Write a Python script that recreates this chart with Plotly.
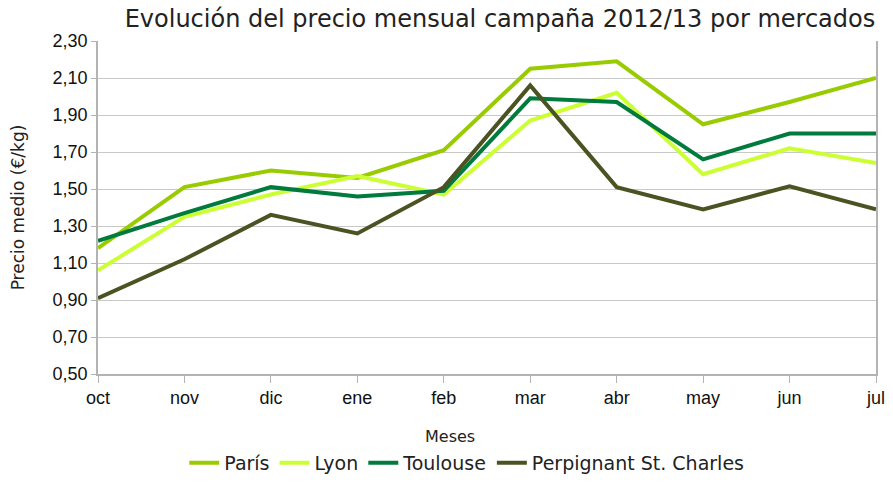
import plotly.graph_objects as go

meses = ["oct", "nov", "dic", "ene", "feb", "mar", "abr", "may", "jun", "jul"]
paris = [1.18, 1.51, 1.60, 1.56, 1.71, 2.15, 2.19, 1.85, 1.97, 2.10]
lyon = [1.06, 1.35, 1.47, 1.57, 1.47, 1.87, 2.02, 1.58, 1.72, 1.64]
toulouse = [1.22, 1.37, 1.51, 1.46, 1.49, 1.99, 1.97, 1.66, 1.80, 1.80]
perpignan = [0.91, 1.12, 1.36, 1.26, 1.51, 2.06, 1.51, 1.39, 1.515, 1.39]
y_ticks = [0.5, 0.7, 0.9, 1.1, 1.3, 1.5, 1.7, 1.9, 2.1, 2.3]

series = [
    ("París", paris, "#99CC00"),
    ("Lyon", lyon, "#CCFF33"),
    ("Toulouse", toulouse, "#007A3D"),
    ("Perpignant St. Charles", perpignan, "#4C5323"),
]

fig = go.Figure()
for name, vals, color in series:
    fig.add_trace(go.Scatter(x=meses, y=vals, name=name, mode="lines",
                             line=dict(color=color, width=4)))

title_font = "DejaVu Sans"
tick_font = "Liberation Sans"
fig.update_layout(
    width=893, height=483,
    margin=dict(l=98, r=17, t=41, b=109, autoexpand=False),
    paper_bgcolor="white", plot_bgcolor="white",
    separators=",.",
    showlegend=True,
    title=dict(text="Evolución del precio mensual campaña 2012/13 por mercados",
               font=dict(family=title_font, size=24, color="#222"),
               x=0.999, xanchor="right", xref="paper", y=0.961, yanchor="middle"),
    legend=dict(orientation="h", x=0.474, xanchor="center", y=-0.267, yanchor="middle",
                font=dict(family=title_font, size=19, color="#222"),
                itemwidth=30, tracegroupgap=0, itemclick=False),
    font=dict(family=tick_font, size=17, color="#111"),
)
fig.update_xaxes(
    type="category", range=[0, 9], showgrid=False, automargin=False,
    showline=True, linecolor="#b3b3b3", linewidth=1.5,
    ticks="outside", ticklen=7, tickcolor="#b3b3b3", tickwidth=1,
    tickfont=dict(family=tick_font, size=18, color="#111"),
    zeroline=False, mirror=False,
)
fig.update_yaxes(
    range=[0.5, 2.3], tickvals=y_ticks, tickformat=".2f", automargin=False,
    showgrid=True, gridcolor="#c8c8c8", gridwidth=1.3,
    showline=True, linecolor="#b3b3b3", linewidth=1.5, mirror=True,
    ticks="outside", ticklen=5, tickcolor="#b3b3b3",
    tickfont=dict(family=tick_font, size=18, color="#111"),
    zeroline=False,
)
fig.add_annotation(text="Precio medio (€/kg)", textangle=-90, xref="paper", yref="paper",
                   x=-0.103, y=0.5, xanchor="center", yanchor="middle", showarrow=False,
                   font=dict(family=title_font, size=17, color="#222"))
fig.add_annotation(text="Meses", xref="paper", yref="paper",
                   x=0.452, y=-0.189, xanchor="center", yanchor="middle", showarrow=False,
                   font=dict(family=title_font, size=16, color="#222"))
fig.write_html("out.html", config={"displayModeBar": False},
               post_script="document.body.style.margin='0';")
